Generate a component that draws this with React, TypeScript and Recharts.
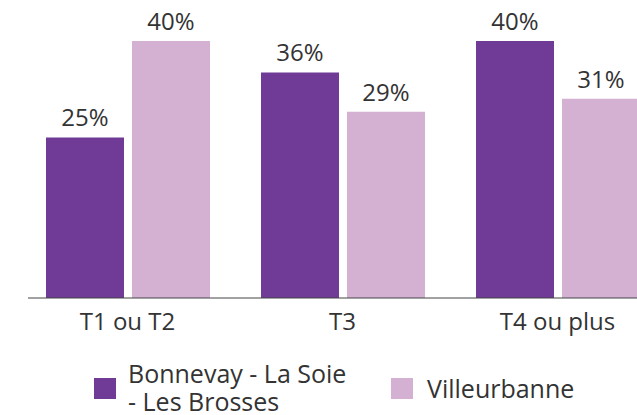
import { Bar, BarChart, LabelList, XAxis, YAxis } from "recharts";

const categories = ["T1 ou T2", "T3", "T4 ou plus"];
// bar heights as drawn in the reference (the T3 bar sits at ~35 although its label reads 36%)
const bonnevay = [25, 35.1, 40];
const villeurbanne = [40, 29, 31];
const bonnevayLabels = ["25%", "36%", "40%"];
const villeurbanneLabels = ["40%", "29%", "31%"];
const seriesNames = ["Bonnevay - La Soie - Les Brosses", "Villeurbanne"];

const DARK = "#6f3b96";
const LIGHT = "#d4b1d3";
const TEXT = "#333333";
const FONT = "'Open Sans', sans-serif";

const data = categories.map((c, i) => ({
  name: c,
  a: bonnevay[i],
  b: villeurbanne[i],
  la: bonnevayLabels[i],
  lb: villeurbanneLabels[i],
}));

const labelStyle = { fill: TEXT, fontSize: 24, fontFamily: FONT };

export default function App() {
  return (
    <div
      style={{
        position: "absolute",
        left: 0,
        top: 0,
        width: 637,
        height: 415,
        overflow: "hidden",
        background: "#fff",
        fontFamily: FONT,
      }}
    >
      <BarChart
        width={665}
        height={415}
        data={data}
        margin={{ top: 41, right: 0, bottom: 87, left: 28 }}
        barGap={8}
        barSize={78}
      >
        <YAxis hide domain={[0, 40]} />
        <XAxis
          dataKey="name"
          padding={{ left: -8, right: 0 }}
          axisLine={{ stroke: "#444", strokeWidth: 1 }}
          tickLine={false}
          tickSize={0}
          tickMargin={15}
          height={30}
          tick={{ fill: TEXT, fontSize: 24, fontFamily: FONT }}
        />
        <Bar dataKey="a" name={seriesNames[0]} fill={DARK} isAnimationActive={false}>
          <LabelList dataKey="la" position="top" offset={11} style={labelStyle} />
        </Bar>
        <Bar dataKey="b" name={seriesNames[1]} fill={LIGHT} isAnimationActive={false}>
          <LabelList dataKey="lb" position="top" offset={11} style={labelStyle} />
        </Bar>
      </BarChart>

      {/* legend */}
      <div style={{ position: "absolute", left: 94, top: 378, width: 22, height: 21, background: DARK }} />
      <div
        style={{
          position: "absolute",
          left: 128,
          top: 359,
          fontSize: 25,
          lineHeight: "28px",
          color: TEXT,
          whiteSpace: "pre",
        }}
      >
        {seriesNames[0].replace(" - Les", "\n- Les")}
      </div>
      <div style={{ position: "absolute", left: 391, top: 378, width: 22, height: 21, background: LIGHT }} />
      <div
        style={{
          position: "absolute",
          left: 427,
          top: 374,
          fontSize: 25,
          lineHeight: "28px",
          color: TEXT,
          whiteSpace: "nowrap",
        }}
      >
        {seriesNames[1]}
      </div>
    </div>
  );
}
